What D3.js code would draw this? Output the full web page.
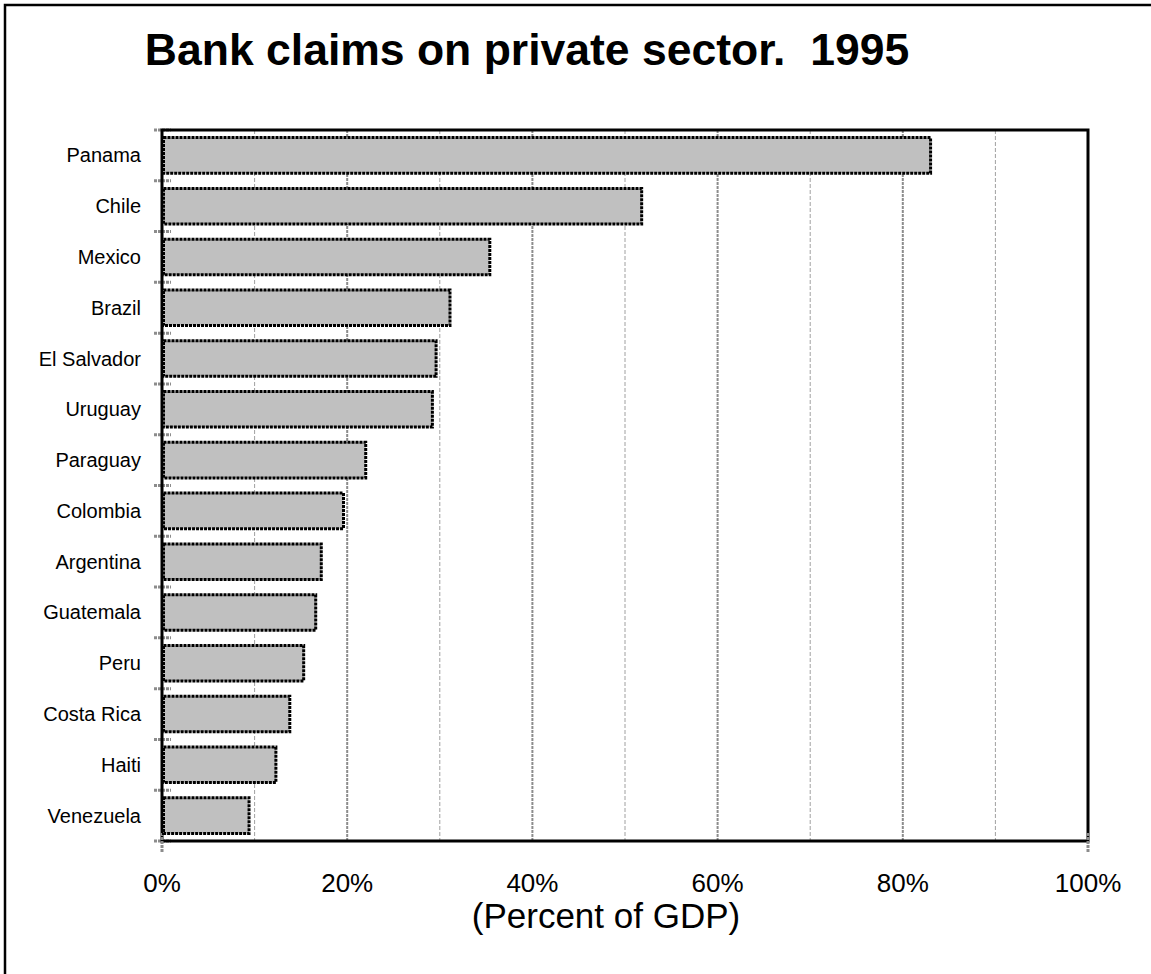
<!DOCTYPE html>
<html>
<head>
<meta charset="utf-8">
<script src="https://cdn.jsdelivr.net/npm/d3@7"></script>
<style>
  html, body { margin: 0; padding: 0; background: #fff; }
  svg { display: block; }
  text { font-family: "Liberation Sans", Arial, sans-serif; fill: #000; white-space: pre; }
</style>
</head>
<body>
<svg id="chart" width="1151" height="974"></svg>
<script>
// Bank claims on the private sector, 1995, as a share of GDP
const countries = ["Panama", "Chile", "Mexico", "Brazil", "El Salvador", "Uruguay", "Paraguay",
  "Colombia", "Argentina", "Guatemala", "Peru", "Costa Rica", "Haiti", "Venezuela"];
const claims = [0.83, 0.518, 0.354, 0.311, 0.296, 0.292, 0.220, 0.196, 0.172, 0.166, 0.153, 0.138, 0.123, 0.094];
const tickValues = [0, 0.2, 0.4, 0.6, 0.8, 1.0];
const gridValues = [0.1, 0.2, 0.3, 0.4, 0.5, 0.6, 0.7, 0.8, 0.9];

const titleText = "Bank claims on private sector.  1995";
const axisTitle = "(Percent of GDP)";

const svg = d3.select("#chart");

// outer frame
svg.append("rect")
  .attr("x", 5).attr("y", 5)
  .attr("width", 1160).attr("height", 990)
  .attr("fill", "none").attr("stroke", "#000").attr("stroke-width", 2.5);

const plot = { left: 162, right: 1088, top: 130, bottom: 841 };

const x = d3.scaleLinear().domain([0, 1]).range([plot.left, plot.right]);
const y = d3.scaleBand().domain(countries).range([plot.top, plot.bottom]).paddingInner(0.3).paddingOuter(0.15);
const yBand = d3.scaleBand().domain(countries).range([plot.top, plot.bottom]);

// title
svg.append("text")
  .attr("x", 527).attr("y", 65)
  .attr("text-anchor", "middle")
  .style("font-size", "44.5px").style("font-weight", "bold")
  .text(titleText);

// vertical gridlines
svg.append("g").selectAll("line")
  .data(gridValues)
  .join("line")
  .attr("x1", d => x(d)).attr("x2", d => x(d))
  .attr("y1", plot.top).attr("y2", plot.bottom)
  .attr("stroke", (d, i) => i % 2 === 1 ? "#8c8c8c" : "#a0a0a0")
  .attr("stroke-width", (d, i) => i % 2 === 1 ? 2 : 1)
  .attr("stroke-dasharray", (d, i) => i % 2 === 1 ? "3,1" : "4,2");

// category tick marks on the value axis
const boundaries = countries.map(c => yBand(c)).concat([plot.bottom]);
svg.append("g").selectAll("line")
  .data(boundaries)
  .join("line")
  .attr("x1", plot.left - 8).attr("x2", plot.left + 9)
  .attr("y1", d => d).attr("y2", d => d)
  .attr("stroke", "#8c8c8c").attr("stroke-width", 3)
  .attr("stroke-dasharray", "3,1");

// frame: top, right, bottom, left
const frame = svg.append("g").attr("stroke", "#000").attr("stroke-width", 3).attr("fill", "none");
frame.append("path")
  .attr("d", `M${plot.left},${plot.top}H${plot.right}V${plot.bottom}H${plot.left}Z`);

// x-axis end ticks
svg.append("g").selectAll("line")
  .data([0, 1])
  .join("line")
  .attr("x1", d => x(d)).attr("x2", d => x(d))
  .attr("y1", plot.bottom - 8).attr("y2", plot.bottom + 11)
  .attr("stroke", "#8c8c8c").attr("stroke-width", 3)
  .attr("stroke-dasharray", "3,1");

// bars
svg.append("g").selectAll("rect")
  .data(countries)
  .join("rect")
  .attr("x", x(0) + 1.5)
  .attr("y", d => y(d))
  .attr("width", (d, i) => x(claims[i]) - x(0) - 1.5)
  .attr("height", y.bandwidth())
  .attr("fill", "#c0c0c0")
  .attr("stroke", "#000").attr("stroke-width", 3)
  .attr("stroke-dasharray", "3,1");

// category labels
svg.append("g").selectAll("text")
  .data(countries)
  .join("text")
  .attr("x", 141)
  .attr("y", d => yBand(d) + yBand.bandwidth() / 2 + 7)
  .attr("text-anchor", "end")
  .style("font-size", "20px")
  .text(d => d);

// value axis labels
const fmt = d3.format(".0%");
svg.append("g").selectAll("text")
  .data(tickValues)
  .join("text")
  .attr("x", d => x(d))
  .attr("y", 892)
  .attr("text-anchor", "middle")
  .style("font-size", "26px")
  .text(d => fmt(d));

svg.append("text")
  .attr("x", 606).attr("y", 928)
  .attr("text-anchor", "middle")
  .style("font-size", "35px")
  .text(axisTitle);
</script>
</body>
</html>
